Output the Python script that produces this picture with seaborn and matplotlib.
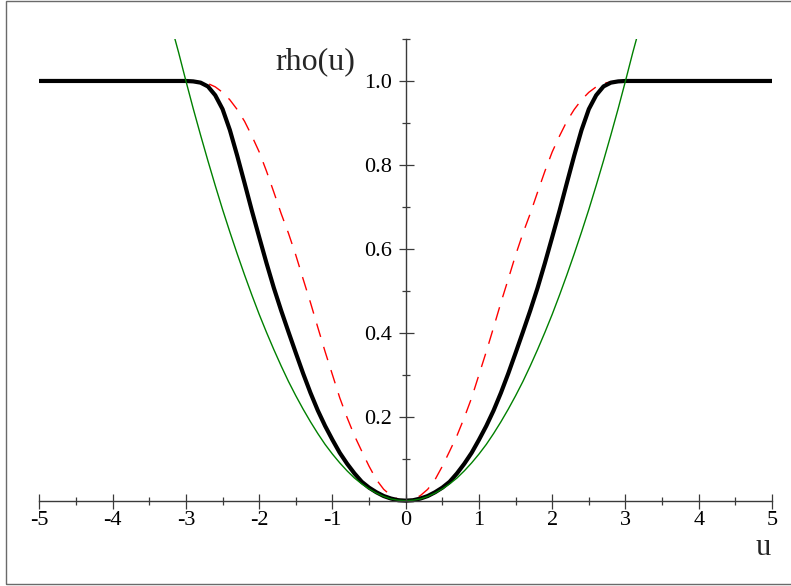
import numpy as np
import pandas as pd
import matplotlib
matplotlib.use("Agg")
import matplotlib.pyplot as plt
from matplotlib.patches import Rectangle
from matplotlib.ticker import FixedLocator
import seaborn as sns

# Half curves for u >= 0 (the functions are even in u)
u_pos = [0.0, 0.1, 0.2, 0.3, 0.4, 0.5, 0.6, 0.7, 0.8, 0.9, 1.0, 1.1, 1.2, 1.3, 1.4,
         1.5, 1.6, 1.7, 1.8, 1.9, 2.0, 2.1, 2.2, 2.3, 2.4, 2.5, 2.6, 2.7, 2.8, 2.9,
         3.0, 5.0]
rho_black = [0.000, 0.001, 0.005, 0.011, 0.020, 0.031, 0.045, 0.065, 0.088, 0.114,
             0.145, 0.178, 0.215, 0.257, 0.303, 0.352, 0.402, 0.453, 0.507, 0.566,
             0.628, 0.691, 0.757, 0.822, 0.883, 0.933, 0.966, 0.987, 0.996, 0.999,
             1.000, 1.000]
rho_red = [0.000, 0.003, 0.012, 0.027, 0.050, 0.082, 0.118, 0.155, 0.198, 0.245,
           0.300, 0.355, 0.413, 0.472, 0.528, 0.585, 0.637, 0.684, 0.735, 0.785,
           0.831, 0.869, 0.904, 0.932, 0.955, 0.973, 0.986, 0.994, 0.998, 1.000,
           1.000, 1.000]
u_green = [0.0, 0.1, 0.2, 0.3, 0.4, 0.5, 0.6, 0.7, 0.8, 0.9, 1.0, 1.1, 1.2, 1.3, 1.4,
           1.5, 1.6, 1.7, 1.8, 1.9, 2.0, 2.1, 2.2, 2.3, 2.4, 2.5, 2.6, 2.7, 2.8, 2.9,
           3.0, 3.1, 3.15]
rho_green = [0.000, 0.001, 0.004, 0.010, 0.018, 0.028, 0.040, 0.054, 0.071, 0.090,
             0.111, 0.134, 0.160, 0.188, 0.218, 0.250, 0.284, 0.321, 0.360, 0.401,
             0.444, 0.490, 0.538, 0.588, 0.640, 0.694, 0.751, 0.810, 0.871, 0.934,
             1.000, 1.068, 1.100]

x_ticks = [-5, -4, -3, -2, -1, 0, 1, 2, 3, 4, 5]
x_ticklabels = ["-5", "-4", "-3", "-2", "-1", "0", "1", "2", "3", "4", "5"]
y_ticks = [0.2, 0.4, 0.6, 0.8, 1.0]
y_ticklabels = ["0.2", "0.4", "0.6", "0.8", "1.0"]


def both_sides(xs, ys):
    xs_full = [-x for x in reversed(xs[1:])] + list(xs)
    ys_full = list(reversed(ys[1:])) + list(ys)
    return xs_full, ys_full


ub, yb = both_sides(u_pos, rho_black)
ur, yr = both_sides(u_pos, rho_red)
ug, yg = both_sides(u_green, rho_green)
df_black = pd.DataFrame({"u": ub, "rho": yb})
df_red = pd.DataFrame({"u": ur, "rho": yr})
df_green = pd.DataFrame({"u": ug, "rho": yg})

sns.set_style("white")
plt.rcParams["font.family"] = ["Liberation Serif", "DejaVu Serif"]
plt.rcParams["axes.unicode_minus"] = False

W, H = 791, 586
fig = plt.figure(figsize=(W / 100, H / 100), dpi=100)
ax = fig.add_axes([39.4 / W, (H - 505.7) / H, 732.6 / W, (505.7 - 39.0) / H])
ax.patch.set_alpha(0)

sns.lineplot(data=df_red, x="u", y="rho", ax=ax, color="#ff0000", lw=1.0,
             sort=False, estimator=None)
ax.lines[-1].set_dashes((10, 7.5))
sns.lineplot(data=df_black, x="u", y="rho", ax=ax, color="black", lw=3.0,
             sort=False, estimator=None)
sns.lineplot(data=df_green, x="u", y="rho", ax=ax, color="#008000", lw=1.0,
             sort=False, estimator=None)
for ln in ax.lines:
    ln.set_solid_joinstyle("round")

ax.set_xlim(-5, 5)
ax.set_ylim(-0.012, 1.1)
ax.set_xlabel("")
ax.set_ylabel("")

axis_col = "#3a3a3a"
for side in ("top", "right"):
    ax.spines[side].set_visible(False)
ax.spines["left"].set_position(("data", 0))
ax.spines["bottom"].set_position(("data", 0))
ax.spines["left"].set_bounds(0, 1.1)
for side in ("left", "bottom"):
    ax.spines[side].set_color(axis_col)
    ax.spines[side].set_linewidth(1.0)

ax.xaxis.set_major_locator(FixedLocator(x_ticks))
ax.set_xticklabels(x_ticklabels)
ax.xaxis.set_minor_locator(FixedLocator([-4.5, -3.5, -2.5, -1.5, -0.5, 0.5, 1.5, 2.5, 3.5, 4.5]))
ax.yaxis.set_major_locator(FixedLocator(y_ticks))
ax.set_yticklabels(y_ticklabels)
ax.yaxis.set_minor_locator(FixedLocator([0.1, 0.3, 0.5, 0.7, 0.9, 1.1]))

ax.tick_params(which="major", direction="inout", length=10.8, width=0.9,
               color=axis_col, labelsize=16, labelcolor="black")
ax.tick_params(which="minor", direction="inout", length=5.8, width=0.9, color=axis_col)
ax.tick_params(axis="x", which="major", pad=2.0)
ax.tick_params(axis="y", which="major", pad=4.5)
ax.tick_params(bottom=True, left=True, which="both")

fig.text(275 / W, (H - 69) / H, "rho(u)", fontsize=23, ha="left", va="baseline")
fig.text(771 / W, (H - 555) / H, "u", fontsize=22, ha="right", va="baseline")

fig.patches.append(Rectangle((6.5 / W, (H - 584.3) / H), 1.0, (584.3 - 1.0) / H,
                             transform=fig.transFigure, fill=False,
                             edgecolor="#6a6a6a", lw=1.0, clip_on=False))

fig.savefig("out.png", dpi=100)
